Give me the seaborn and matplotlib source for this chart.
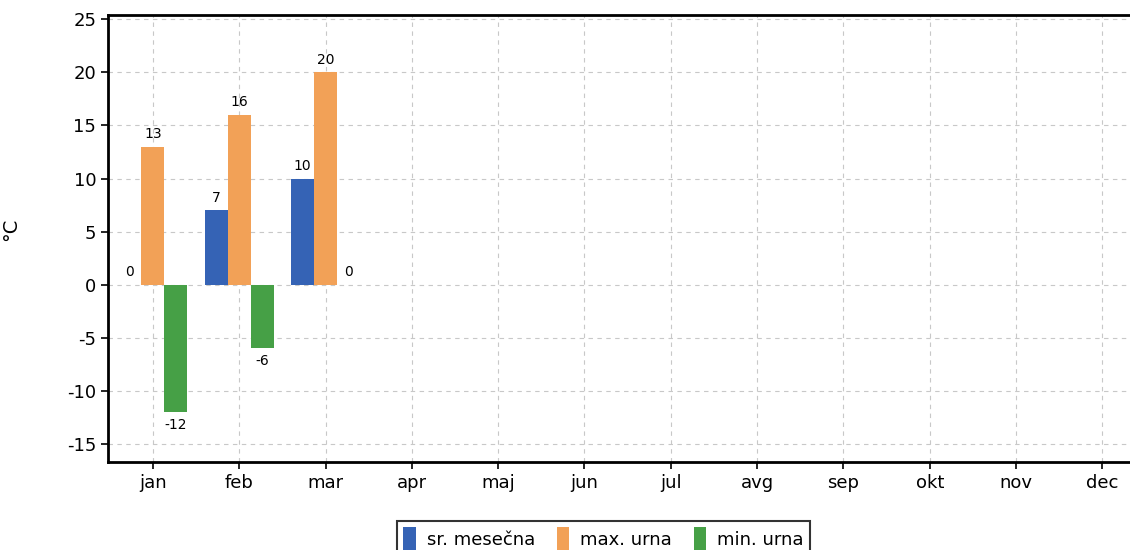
import seaborn as sns
import matplotlib.pyplot as plt
import pandas as pd

months = ['jan', 'feb', 'mar', 'apr', 'maj', 'jun', 'jul', 'avg', 'sep', 'okt', 'nov', 'dec']
data_months = ['jan', 'feb', 'mar']
sr_mesecna = [0, 7, 10]
max_urna = [13, 16, 20]
min_urna = [-12, -6, 0]
series = ['sr. mesečna', 'max. urna', 'min. urna']
colors = ['#3563b5', '#f2a157', '#46a046']


def BuildFrame():
    rows = []
    for name, vals in zip(series, [sr_mesecna, max_urna, min_urna]):
        for m, v in zip(data_months, vals):
            rows.append({'mesec': m, 'serija': name, 'temp': v})
    return pd.DataFrame(rows)


df = BuildFrame()

sns.set_style('white')
plt.rcParams['font.family'] = ['DejaVu Sans']
plt.rcParams['axes.unicode_minus'] = False
plt.rcParams['text.color'] = 'black'

fig = plt.figure(figsize=(11.3, 5.5), dpi=100)
ax = fig.add_axes([108 / 1130, 1 - 462 / 550, 1 - 108 / 1130, (462 - 15) / 550])

sns.barplot(data=df, x='mesec', y='temp', hue='serija', order=months, hue_order=series,
            palette=colors, errorbar=None, width=0.8, saturation=1, linewidth=0, ax=ax)

for cont in ax.containers:
    ax.bar_label(cont, fmt='%d', padding=4, fontsize=10, color='black')

ax.set_xlim(-0.52, 11.32)
ax.set_ylim(-16.7, 25.4)
ax.set_yticks(range(-15, 30, 5))
ax.set_xlabel('')
ax.set_ylabel('°C', fontsize=14, color='black')
ax.yaxis.set_label_coords(-0.086, 0.52)
ax.tick_params(axis='both', labelsize=13, labelcolor='black', direction='out', length=5,
               width=1.2, color='black', left=True, bottom=True)
ax.grid(True, color='#c8c8c8', linestyle=(0, (4, 4)), linewidth=0.8)
ax.set_axisbelow(True)

for side in ['left', 'bottom', 'top']:
    ax.spines[side].set_color('black')
    ax.spines[side].set_linewidth(2)
ax.spines['right'].set_visible(False)

ax.get_legend().remove()
handles, labels = ax.get_legend_handles_labels()
leg = fig.legend(handles, labels, loc='upper center', bbox_to_anchor=(0.534, 1 - 512 / 550),
                 ncol=3, fontsize=13, frameon=True, fancybox=False, edgecolor='black',
                 handlelength=0.7, handleheight=1.7, handletextpad=0.6, columnspacing=1.2,
                 borderpad=0.35)
leg.get_frame().set_linewidth(1.5)

fig.savefig('out.png', dpi=100)
